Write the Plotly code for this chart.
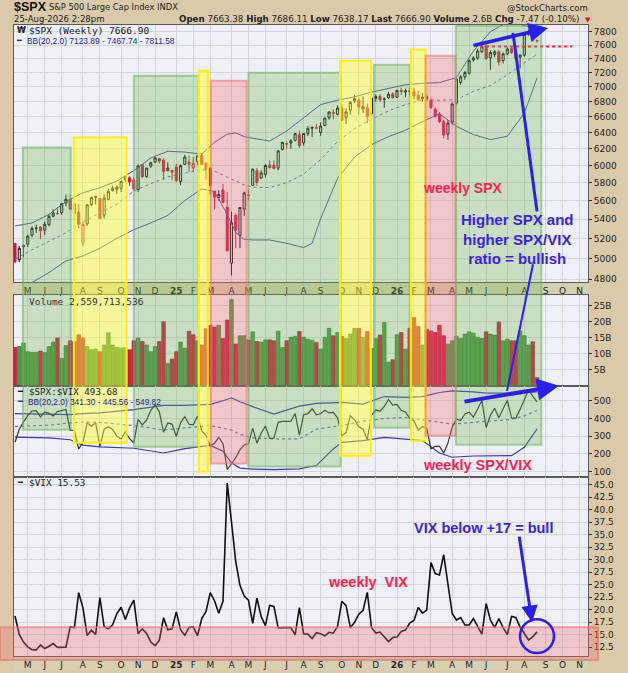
import math
import pandas as pd
import plotly.graph_objects as go

W, H = 628, 673

# weekly bars (Monday dates), 2024-04-15 .. 2026-08-24
dates = pd.date_range("2024-04-15", periods=124, freq="7D")

spx_open = [
    5149, 4987, 5116, 5142, 5233, 5305, 5316, 5284, 5341, 5432,
    5460, 5471, 5573, 5615, 5565, 5476, 5152, 5350, 5557, 5635,
    5623, 5442, 5615, 5712, 5727, 5737, 5836, 5857, 5833, 5723,
    6008, 5870, 5992, 6040, 6083, 6063, 5940, 5920, 5982, 5814,
    6014, 6013, 5970, 6046, 6121, 6026, 5968, 5706, 5635, 5719,
    5527, 4953, 5441, 5232, 5508, 5655, 5771, 5940, 5854, 5897,
    6005, 6004, 5969, 6193, 6259, 6270, 6304, 6374, 6272, 6389,
    6455, 6457, 6401, 6490, 6590, 6661, 6634, 6715, 6594, 6690,
    6808, 6822, 6703, 6719, 6641, 6845, 6870, 6830, 6850, 6905,
    6860, 6950, 6930, 6950, 6935, 6890, 6840, 6870, 6817, 6700,
    6640, 6540, 6380, 6530, 6780, 7060, 7140, 7190, 7380, 7410,
    7500, 7590, 7410, 7460, 7500, 7370, 7470, 7550, 7480, 7420,
    7450, 7760, 7800, 7663.38,
]
spx_high = [
    5150, 5123, 5139, 5239, 5325, 5342, 5325, 5375, 5448, 5506,
    5524, 5570, 5667, 5670, 5585, 5566, 5370, 5561, 5643, 5651,
    5623, 5670, 5733, 5767, 5767, 5823, 5879, 5878, 5862, 6012,
    6018, 5972, 6044, 6099, 6085, 6085, 6040, 5949, 6021, 6014,
    6128, 6120, 6101, 6127, 6147, 6044, 5986, 5706, 5715, 5787,
    5695, 5482, 5460, 5528, 5700, 5720, 5959, 5969, 5944, 6017,
    6059, 6060, 6187, 6285, 6290, 6316, 6395, 6427, 6390, 6481,
    6470, 6509, 6532, 6592, 6672, 6699, 6751, 6764, 6711, 6807,
    6890, 6852, 6869, 6776, 6855, 6895, 6900, 6860, 6935, 6925,
    6965, 6990, 6975, 6985, 6990, 6950, 6920, 6900, 6845, 6725,
    6665, 6565, 6560, 6790, 7140, 7165, 7225, 7390, 7435, 7545,
    7610, 7620, 7520, 7525, 7525, 7490, 7565, 7585, 7495, 7465,
    7785, 7835, 7825, 7686.11,
]
spx_low = [
    4953, 4964, 5011, 5114, 5211, 5257, 5191, 5234, 5324, 5420,
    5447, 5445, 5540, 5497, 5390, 5302, 5119, 5330, 5540, 5560,
    5403, 5407, 5604, 5700, 5674, 5695, 5809, 5762, 5703, 5696,
    5853, 5856, 5972, 6034, 6024, 5832, 5933, 5829, 5809, 5773,
    6007, 5924, 5923, 6003, 6008, 5837, 5666, 5505, 5597, 5572,
    5069, 4835, 5101, 5101, 5433, 5603, 5768, 5767, 5844, 5861,
    5963, 5952, 5943, 6178, 6202, 6201, 6290, 6212, 6238, 6358,
    6343, 6441, 6360, 6478, 6563, 6569, 6620, 6550, 6508, 6630,
    6779, 6631, 6650, 6521, 6600, 6800, 6800, 6720, 6840, 6840,
    6850, 6890, 6860, 6880, 6830, 6810, 6800, 6810, 6700, 6590,
    6520, 6330, 6310, 6500, 6760, 7030, 7100, 7170, 7355, 7380,
    7480, 7380, 7240, 7420, 7300, 7330, 7450, 7470, 7370, 7260,
    7430, 7740, 7650, 7638.17,
]
spx_close = [
    4967, 5100, 5128, 5223, 5303, 5305, 5278, 5347, 5431, 5465,
    5460, 5567, 5615, 5505, 5459, 5346, 5344, 5554, 5634, 5648,
    5408, 5626, 5703, 5738, 5751, 5815, 5864, 5808, 5728, 5995,
    5870, 5969, 6032, 6090, 6051, 5930, 5970, 5942, 5827, 5997,
    6101, 6040, 6026, 6115, 6013, 5955, 5770, 5639, 5668, 5581,
    5074, 5363, 5283, 5525, 5686, 5660, 5958, 5803, 5912, 6000,
    5977, 5967, 6173, 6279, 6260, 6297, 6389, 6238, 6389, 6450,
    6467, 6460, 6482, 6584, 6664, 6644, 6716, 6553, 6664, 6791,
    6840, 6729, 6734, 6603, 6849, 6870, 6827, 6834, 6900, 6858,
    6950, 6940, 6945, 6935, 6880, 6830, 6860, 6840, 6722, 6610,
    6540, 6370, 6520, 6770, 7110, 7140, 7200, 7370, 7410, 7510,
    7580, 7400, 7490, 7500, 7350, 7470, 7540, 7490, 7400, 7450,
    7760, 7800, 7674.37, 7666.90,
]
close_before_first = 5123

# weekly volume, billions of shares
volume_b = [
    12.0, 12.3, 13.4, 10.7, 10.5, 10.5, 10.9, 10.4, 12.3, 13.7,
    15.0, 8.6, 12.6, 14.1, 13.9, 16.0, 15.0, 12.3, 11.3, 11.5,
    10.7, 12.8, 16.6, 12.8, 12.0, 11.8, 12.0, 11.3, 14.1, 15.0,
    13.9, 12.8, 10.7, 12.3, 13.9, 20.1, 7.0, 8.4, 10.7, 13.7,
    11.8, 17.1, 16.0, 14.1, 12.8, 17.9, 19.0, 18.4, 19.0, 14.8,
    20.6, 27.0, 13.1, 15.7, 15.7, 14.4, 16.9, 13.9, 13.7, 14.4,
    14.4, 14.1, 17.1, 12.0, 14.1, 15.2, 15.5, 17.0, 15.2, 14.6,
    14.3, 13.6, 11.5, 15.2, 18.0, 15.7, 16.7, 15.5, 14.8, 16.2,
    18.0, 18.0, 15.2, 17.0, 11.7, 14.8, 15.9, 19.8, 7.4, 8.2,
    16.0, 16.7, 11.5, 18.0, 21.4, 18.6, 12.8, 17.7, 17.2, 16.7,
    19.0, 15.7, 13.1, 14.1, 15.5, 14.8, 16.2, 16.9, 16.5, 15.2,
    14.8, 16.9, 16.2, 15.9, 20.0, 14.1, 14.6, 14.1, 14.1, 17.2,
    15.7, 12.8, 13.8, 2.56,
]

vix_close = [
    18.71, 15.03, 13.49, 12.55, 11.99, 11.93, 12.92, 12.22, 12.66, 13.20,
    12.44, 12.48, 12.46, 16.52, 16.39, 23.39, 20.37, 14.80, 15.86, 15.00,
    22.38, 16.56, 16.15, 16.96, 19.21, 20.46, 18.03, 20.33, 21.88, 15.16,
    16.14, 15.24, 13.51, 12.77, 13.81, 18.36, 15.95, 16.13, 19.54, 15.97,
    14.85, 16.43, 16.54, 14.77, 18.21, 19.63, 23.37, 21.77, 19.28, 21.65,
    45.31, 37.56, 29.65, 24.84, 22.68, 21.90, 17.24, 22.29, 18.57, 16.77,
    20.82, 20.62, 16.32, 16.38, 16.40, 16.41, 14.93, 20.38, 15.15, 15.09,
    14.22, 15.36, 15.18, 14.76, 15.45, 15.29, 16.65, 21.66, 20.78, 16.37,
    17.44, 19.08, 19.83, 23.43, 16.35, 15.3, 15.5, 14.6, 13.6, 14.4,
    14.5, 15.6, 15.9, 17.3, 17.8, 20.4, 19.3, 19.9, 29.4, 27.2,
    26.9, 31.0, 25.0, 19.2, 17.9, 18.4, 16.9, 16.9, 18.2, 16.6,
    15.1, 21.2, 17.9, 16.4, 18.2, 16.4, 15.0, 18.6, 18.4, 16.5,
    15.2, 13.9, 14.6, 15.53,
]

# Bollinger bands at selected weeks (index into dates)
bb_weeks = [0, 4, 8, 12, 16, 20, 24, 28, 32, 36, 40, 44, 47, 50, 52, 54, 56,
            60, 64, 68, 70, 72, 76, 80, 84, 88, 92, 96, 100, 104, 108, 112,
            116, 120, 123]
bb_upper = [5328, 5360, 5450, 5590, 5687, 5743, 5820, 5940, 6090, 6170,
            6160, 6135, 6280, 6380, 6396, 6350, 6330, 6295, 6420, 6590,
            6680, 6761, 6820, 6865, 6930, 6985, 7030, 7050, 7060, 7130,
            7510, 7800, 7950, 7900, 7811.58]
bb_mid = [4992, 5085, 5170, 5259, 5370, 5469, 5560, 5706, 5790, 5868,
          5910, 5950, 5934, 5870, 5820, 5775, 5750, 5745, 5800, 5900,
          5980, 6070, 6290, 6450, 6570, 6680, 6760, 6828, 6820, 6828,
          6940, 7020, 7170, 7340, 7467.74]
bb_lower = [4600, 4769, 4863, 4975, 5024, 5100, 5200, 5290, 5360, 5440,
            5600, 5730, 5700, 5450, 5260, 5190, 5184, 5184, 5150, 5107,
            5150, 5405, 5850, 6100, 6250, 6350, 6430, 6540, 6640, 6480,
            6375, 6313, 6354, 6650, 7123.89]

rbb_weeks = [0, 8, 13, 16, 20, 28, 35, 40, 46, 49, 51, 53, 56, 61, 67, 71, 75,
             77, 82, 87, 92, 96, 100, 103, 108, 111, 117, 120, 123]
rbb_upper = [427, 425, 422, 428, 432, 450, 474, 474, 480, 500,
             517, 495, 467, 425, 470, 485, 490, 491, 481, 524,
             519, 524, 547, 556, 550, 543, 543, 546, 549.82]
rbb_mid = [355, 362, 375, 380, 378, 360, 335, 345, 360, 345,
           335, 310, 290, 285, 285, 340, 355, 360, 385, 400,
           406, 393, 378, 369, 378, 383, 395, 415, 445.56]
rbb_lower = [295, 290, 280, 250, 240, 232, 205, 230, 248, 215,
             150, 120, 114, 111, 115, 134, 228, 265, 275, 293,
             284, 275, 205, 181, 188, 190, 190, 237, 341.30]

# shaded zones: start, end, kind
zones = [
    ("2024-04-28", "2024-07-16", "green"),
    ("2024-07-21", "2024-10-16", "yellow"),
    ("2024-10-28", "2025-02-12", "green"),
    ("2025-02-12", "2025-02-27", "yellow"),
    ("2025-03-04", "2025-05-02", "red"),
    ("2025-05-05", "2025-10-04", "green"),
    ("2025-10-03", "2025-11-23", "yellow"),
    ("2025-11-28", "2026-01-26", "green"),
    ("2026-01-28", "2026-02-21", "yellow"),
    ("2026-02-21", "2026-04-12", "red"),
    ("2026-04-12", "2026-08-31", "green"),
]
# vertical extent of each zone in screen pixels (top, bottom)
zone_px = [(148, 431), (138, 444), (76, 448), (71, 473), (81, 465), (73, 468),
           (61, 457), (65, 429), (50, 442), (56, 437), (26, 446)]

support_level = 7580

# ---------------------------------------------------------------------------
def xp(p):
    return p / W


def yp(p):
    return 1 - p / H


n = len(dates)
prev = [close_before_first] + spx_close[:-1]
ratio = [c / v for c, v in zip(spx_close, vix_close)]

BLUE = "#2a1ff0"
TXT_BLUE = "#3b1fe6"
RED_TXT = "#ff1f4f"
FONT = "DejaVu Sans"
MONO = "DejaVu Sans Mono"
BOLD = "Liberation Sans"

fig = go.Figure()


def candles(idx, color):
    return go.Candlestick(
        x=dates[idx],
        open=[spx_open[k] for k in idx],
        high=[spx_high[k] for k in idx],
        low=[spx_low[k] for k in idx],
        close=[spx_close[k] for k in idx],
        increasing=dict(line=dict(color=color, width=1), fillcolor="rgba(255,255,255,0)"),
        decreasing=dict(line=dict(color=color, width=1), fillcolor=color),
        whiskerwidth=0, xaxis="x", yaxis="y", showlegend=False, hoverinfo="skip",
    )


up = [k for k in range(n) if spx_close[k] >= prev[k]]
dn = [k for k in range(n) if spx_close[k] < prev[k]]

bbx = dates[bb_weeks]
fig.add_trace(go.Scatter(x=bbx, y=bb_upper, mode="lines", line=dict(color="#50509a", width=1),
                         xaxis="x", yaxis="y", showlegend=False, hoverinfo="skip"))
fig.add_trace(go.Scatter(x=bbx, y=bb_lower, mode="lines", line=dict(color="#50509a", width=1),
                         xaxis="x", yaxis="y", showlegend=False, hoverinfo="skip"))
fig.add_trace(go.Scatter(x=bbx, y=bb_mid, mode="lines", line=dict(color="#6a6ab0", width=1, dash="dot"),
                         xaxis="x", yaxis="y", showlegend=False, hoverinfo="skip"))
fig.add_trace(candles(up, "#111111"))
fig.add_trace(candles(dn, "#d4163c"))
fig.add_trace(go.Scatter(x=[dates[109] + pd.Timedelta(days=4), pd.Timestamp("2026-10-21")],
                         y=[support_level, support_level], mode="lines",
                         line=dict(color="#ff2040", width=2, dash="dot"),
                         xaxis="x", yaxis="y", showlegend=False, hoverinfo="skip"))

vol_colors = ["#4f9a4a" if spx_close[k] >= prev[k] else "#d21e44" for k in range(n)]
vol_edges = ["#2f6a2c" if spx_close[k] >= prev[k] else "#8e1030" for k in range(n)]
fig.add_trace(go.Bar(x=dates, y=volume_b, marker=dict(color=vol_colors, line=dict(color=vol_edges, width=0.6)),
                     xaxis="x2", yaxis="y2", showlegend=False, hoverinfo="skip"))

rbx = dates[rbb_weeks]
fig.add_trace(go.Scatter(x=rbx, y=rbb_upper, mode="lines", line=dict(color="#3a3aa8", width=1.2),
                         xaxis="x3", yaxis="y3", showlegend=False, hoverinfo="skip"))
fig.add_trace(go.Scatter(x=rbx, y=rbb_lower, mode="lines", line=dict(color="#3a3aa8", width=1.2),
                         xaxis="x3", yaxis="y3", showlegend=False, hoverinfo="skip"))
fig.add_trace(go.Scatter(x=rbx, y=rbb_mid, mode="lines", line=dict(color="#6a6ab8", width=1.2, dash="dot"),
                         xaxis="x3", yaxis="y3", showlegend=False, hoverinfo="skip"))
fig.add_trace(go.Scatter(x=dates, y=ratio, mode="lines", line=dict(color="#333333", width=1.2),
                         xaxis="x3", yaxis="y3", showlegend=False, hoverinfo="skip"))

fig.add_trace(go.Scatter(x=dates, y=vix_close, mode="lines", line=dict(color="#111111", width=1.6),
                         xaxis="x4", yaxis="y4", showlegend=False, hoverinfo="skip"))

# month ticks at the first weekly bar of each month
all_weeks = pd.date_range("2024-04-15", "2026-11-16", freq="7D")
tickvals, ticktext = [], []
seen = set()
for d in all_weeks:
    key = (d.year, d.month)
    if key in seen:
        continue
    seen.add(key)
    if d.month == 4 and d.year == 2024:
        continue
    tickvals.append(d)
    ticktext.append("<b>%02d</b>" % (d.year % 100) if d.month == 1 else d.strftime("%b")[0])

xdom = [xp(14), xp(588)]
xrange_ = ["2024-04-13 08:00", "2026-11-16"]
grid = "#d4d4dc"
axis_line = "#5a5a5a"
common_x = dict(domain=xdom, range=xrange_, type="date", tickvals=tickvals, ticktext=ticktext,
                showgrid=True, gridcolor=grid, gridwidth=1, ticks="", showline=True, mirror=True,
                linecolor=axis_line, linewidth=1, tickfont=dict(size=9, color="#222", family=FONT),
                rangeslider=dict(visible=False), fixedrange=True)
common_y = dict(side="right", showgrid=True, gridcolor=grid, ticks="outside", ticklen=3, tickcolor="#333",
                showline=True, mirror=True, linecolor=axis_line, linewidth=1, zeroline=False,
                tickfont=dict(size=9, color="#222", family=FONT), fixedrange=True)

fig.update_layout(
    xaxis=dict(common_x, anchor="y"),
    xaxis2=dict(common_x, anchor="y2", matches="x", showticklabels=False),
    xaxis3=dict(common_x, anchor="y3", matches="x", showticklabels=False),
    xaxis4=dict(common_x, anchor="y4", matches="x"),
    yaxis=dict(common_y, anchor="x", domain=[yp(283), yp(25)], type="log",
               range=[math.log10(4772), math.log10(7906)], tickvals=list(range(4800, 7801, 200))),
    yaxis2=dict(common_y, anchor="x2", domain=[yp(387), yp(296)], range=[0, 28.4],
                tickvals=[5, 10, 15, 20, 25], ticktext=["5B", "10B", "15B", "20B", "25B"]),
    yaxis3=dict(common_y, anchor="x3", domain=[yp(478), yp(387)], range=[71.8, 584.5],
                tickvals=[100, 200, 300, 400, 500]),
    yaxis4=dict(common_y, anchor="x4", domain=[yp(658), yp(478)], range=[10.7, 46.6],
                tickvals=[12.5 + 2.5 * k for k in range(14)], tickformat=".1f"),
    width=W, height=H, margin=dict(l=0, r=0, t=0, b=0),
    paper_bgcolor="#dbcaa9", plot_bgcolor="#eff0f7",
    bargap=0.15, showlegend=False, font=dict(family=FONT, size=9, color="#222"),
)

shapes = []
# date label strips
for top, bot in [(283, 296), (658, 672)]:
    shapes.append(dict(type="rect", xref="paper", yref="paper", x0=xdom[0], x1=xdom[1],
                       y0=yp(bot), y1=yp(top), fillcolor="#d6d0b2", line=dict(width=0), layer="below"))

zone_style = {
    "green": ("rgba(108,186,80,0.30)", "rgba(108,180,90,0.55)"),
    "yellow": ("rgba(255,255,40,0.45)", "rgba(255,240,0,0.95)"),
    "red": ("rgba(240,108,108,0.32)", "rgba(236,120,120,0.6)"),
}
for (x0, x1, kind), (top, bot) in zip(zones, zone_px):
    fill, edge = zone_style[kind]
    shapes.append(dict(type="rect", xref="x", yref="paper", x0=x0, x1=x1, y0=yp(bot), y1=yp(top),
                       fillcolor=fill, line=dict(color=edge, width=2), layer="above"))

# VIX "below 17" band
shapes.append(dict(type="rect", xref="paper", yref="paper", x0=0, x1=xp(598), y0=yp(662), y1=yp(629),
                   fillcolor="rgba(240,108,108,0.32)", line=dict(color="rgba(236,110,110,0.6)", width=2),
                   layer="above"))

# blue connector lines and circle
for (ax0, ay0, ax1, ay1, w) in [(513, 33, 537, 212, 3), (533, 265, 507, 392, 2)]:
    shapes.append(dict(type="line", xref="paper", yref="paper", x0=xp(ax0), y0=yp(ay0),
                       x1=xp(ax1), y1=yp(ay1), line=dict(color=BLUE, width=w), layer="above"))
shapes.append(dict(type="circle", xref="paper", yref="paper", x0=xp(520), x1=xp(554),
                   y0=yp(655), y1=yp(621), line=dict(color=BLUE, width=2.5), layer="above"))
fig.update_layout(shapes=shapes)

ann = []


def text(s, x, y, size=9, color="#222", anchor="left", family=FONT):
    ann.append(dict(text=s, x=xp(x), y=yp(y), xref="paper", yref="paper", xanchor=anchor,
                    yanchor="middle", showarrow=False, font=dict(size=size, color=color, family=family)))


def arrow(tip, tail, width):
    ann.append(dict(text="", x=xp(tip[0]), y=yp(tip[1]), xref="paper", yref="paper",
                    ax=tail[0] - tip[0], ay=tail[1] - tip[1], showarrow=True, arrowhead=2,
                    arrowsize=1.1, arrowwidth=width, arrowcolor=BLUE))


# header
text("<b>$SPX</b>", 12, 7, size=12.5, color="#111", family=BOLD)
text("S&P 500 Large Cap Index INDX", 47, 7, size=8.3)
text("@StockCharts.com", 590, 8, size=8.5, anchor="right")
text("25-Aug-2026 2:28pm", 12, 19, size=8.5)
text("<b>Open</b> 7663.38 <b>High</b> 7686.11 <b>Low</b> 7638.17 <b>Last</b> 7666.90 "
     "<b>Volume</b> 2.6B <b>Chg</b> -7.47 (-0.10%)", 581, 19, size=8.7, anchor="right")
text("▼", 588, 20, size=7, color="#d4163c", anchor="center")

# panel legends
text("<b>₩</b>", 15, 31, size=8, color="#222")
text("$SPX (Weekly) 7666.90", 27, 31, size=9.5, color="#222", family=MONO)
text("━", 14, 41, size=8, color="#2a2aa0")
text("BB(20,2.0) 7123.89 - 7467.74 - 7811.58", 25, 41, size=8.4, color="#1e1e9a", family=BOLD)
text("Volume 2,559,713,536", 27, 302, size=9.5, color="#333", family=MONO)
text("━", 15, 393, size=8, color="#111")
text("$SPX:$VIX 493.68", 27, 393, size=9.2, color="#222", family=MONO)
text("━", 15, 403, size=8, color="#2a2aa0")
text("BB(20,2.0) 341.30 - 445.56 - 549.82", 26, 403, size=8.3, color="#1e1e9a", family=BOLD)
text("━", 15, 484, size=8, color="#111")
text("$VIX 15.53", 27, 484, size=9.4, color="#222", family=MONO)

# commentary
text("<b>weekly SPX</b>", 421, 189, size=14, color=RED_TXT, family=BOLD)
text("<b>Higher SPX and<br>higher SPX/VIX<br>ratio = bullish</b>", 459, 240, size=15,
     color=TXT_BLUE, family=BOLD)
text("<b>weekly SPX/VIX</b>", 421, 466, size=14.5, color=RED_TXT, family=BOLD)
text("<b>VIX below +17 = bull</b>", 412, 530, size=14.5, color=TXT_BLUE, family=BOLD)
text("<b>weekly  VIX</b>", 326, 584, size=14.5, color=RED_TXT, family=BOLD)

arrow((548, 28), (472, 46), 3.5)
arrow((559, 387), (463, 403), 4)
arrow((532, 624), (519, 537), 3)

fig.update_layout(annotations=ann)

# the page body has a default margin; drop it so the figure sits at the window's corner
fig.write_html("out.html", config={"displayModeBar": False},
               post_script="document.body.style.margin='0';")
